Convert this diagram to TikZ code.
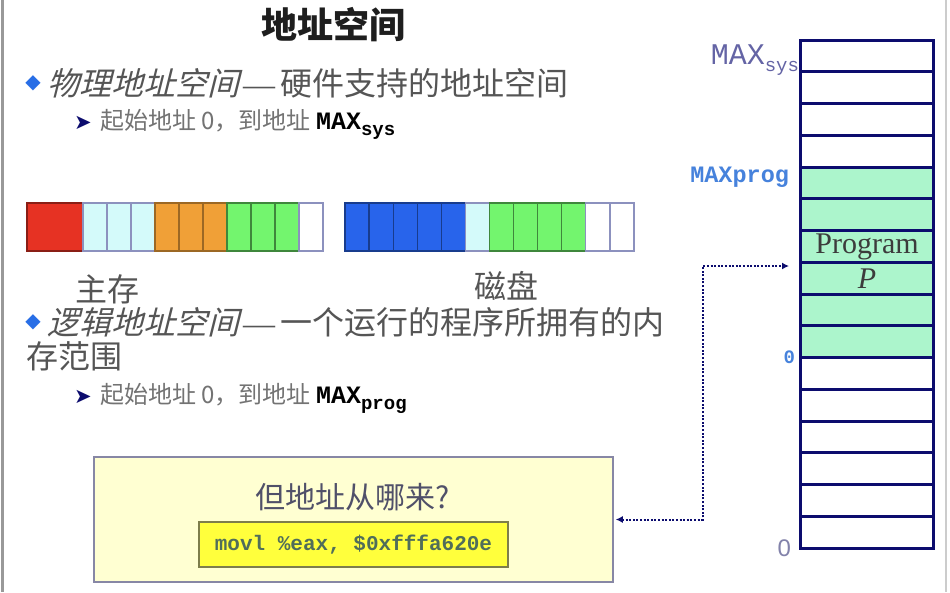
\documentclass[tikz,border=0pt]{standalone}
\usepackage{fontspec}
\setmainfont{Liberation Serif}
\setsansfont{Liberation Sans}
\setmonofont{Liberation Mono}
\newfontfamily\cjk{Noto Sans CJK SC}
\newfontfamily\cjkit[FakeSlant=0.25]{Noto Sans CJK SC}
\newfontfamily\dejavu{DejaVu Sans}
\usetikzlibrary{arrows.meta}
\definecolor{navy}{RGB}{12,12,110}
\definecolor{pgreen}{RGB}{172,245,204}
\definecolor{cred}{RGB}{230,50,35}
\definecolor{ccy}{RGB}{212,250,250}
\definecolor{cor}{RGB}{240,160,55}
\definecolor{cgr}{RGB}{115,245,110}
\definecolor{cbl}{RGB}{40,100,235}
\definecolor{cedge}{RGB}{140,145,190}
\definecolor{txtgray}{RGB}{85,85,85}
\definecolor{subgray}{RGB}{115,115,115}
\definecolor{bulletblue}{RGB}{40,110,230}
\definecolor{boxfill}{RGB}{255,255,210}
\definecolor{boxedge}{RGB}{135,135,165}
\definecolor{codefill}{RGB}{255,255,60}
\definecolor{codeedge}{RGB}{125,125,75}
\definecolor{codetxt}{RGB}{80,110,90}
\definecolor{maxsys}{RGB}{100,100,165}
\definecolor{maxprog}{RGB}{70,130,220}
\tikzset{
  txt/.style={inner sep=0pt, outer sep=0pt},
  bigcjk/.style={txt, font=\cjk\fontsize{32}{36}\selectfont, text=txtgray},
  subtxt/.style={txt, font=\cjk\fontsize{24}{28}\selectfont, text=subgray},
  cellw/.style={draw=navy, line width=3pt, minimum width=133pt, minimum height=31.75pt, inner sep=0pt, fill=white},
  cellg/.style={cellw, fill=pgreen},
  ptr/.style={draw=navy, line width=2pt, dash pattern=on 2pt off 1.6pt, {Latex[length=7pt,width=7pt]}-{Latex[length=7pt,width=7pt]}},
}
\newcommand{\MAXsub}[1]{{\ttfamily\bfseries\color{black}\fontsize{25}{28}\selectfont MAX}\raisebox{-6pt}{\ttfamily\bfseries\color{black}\fontsize{19}{20}\selectfont #1}}
\begin{document}
\begin{tikzpicture}[x=1pt,y=-1pt]
\useasboundingbox (0,0) rectangle (950,592);
\fill[white] (0,0) rectangle (950,592);
\draw[gray!80, line width=3pt] (2,0) -- (2,592);
\draw[gray!40, line width=1.5pt] (946,0) -- (946,592);

% title
\node[txt, font=\cjk\bfseries\fontsize{36}{40}\selectfont, text={rgb,255:red,30;green,30;blue,30}] (title) at (333,25) {地址空间};

% bullet 1
\node[txt, font=\dejavu\fontsize{20}{24}\selectfont, text=bulletblue] (d1) at (33,83) {◆};
\node[bigcjk, anchor=west] (b1) at (47,83) {{\cjkit 物理地址空间}\hspace{4pt}{\rmfamily —}\hspace{5pt}硬件支持的地址空间};
\node[txt, font=\dejavu\fontsize{21}{24}\selectfont, text=navy] (a1) at (83,123) {➤};
\node[subtxt, anchor=west] (s1) at (100,124) {起始地址 0，到地址 \MAXsub{sys}};

% memory bars
\filldraw[fill=cred, draw=cred!60!black, line width=1.2pt] (27,203) rectangle (83,251);
\foreach \c/\b [count=\k from 0] in {ccy/cedge,ccy/cedge,ccy/cedge,cor/cor!65!black,cor/cor!65!black,cor/cor!65!black,cgr/cgr!55!black,cgr/cgr!55!black,cgr/cgr!55!black,white/cedge}
  \filldraw[fill=\c, draw=\b, line width=1.2pt] ({83+24*\k},203) rectangle ({107+24*\k},251);
\foreach \c/\b [count=\k from 0] in {cbl/cbl!60!black,cbl/cbl!60!black,cbl/cbl!60!black,cbl/cbl!60!black,cbl/cbl!60!black,ccy/cedge,cgr/cgr!55!black,cgr/cgr!55!black,cgr/cgr!55!black,cgr/cgr!55!black,white/cedge,white/cedge}
  \filldraw[fill=\c, draw=\b, line width=1.2pt] ({345+24.083*\k},203) rectangle ({369.083+24.083*\k},251);

\node[bigcjk] (mainmem) at (107,289) {主存};
\node[bigcjk] (disk) at (506,286) {磁盘};

% bullet 2
\node[txt, font=\dejavu\fontsize{20}{24}\selectfont, text=bulletblue] (d2) at (33,322) {◆};
\node[bigcjk, anchor=west] (b2) at (47,322) {{\cjkit 逻辑地址空间}\hspace{4pt}{\rmfamily —}\hspace{5pt}一个运行的程序所拥有的内};
\node[bigcjk, anchor=west] (b2b) at (26,356) {存范围};
\node[txt, font=\dejavu\fontsize{21}{24}\selectfont, text=navy] (a2) at (83,397) {➤};
\node[subtxt, anchor=west] (s2) at (100,398) {起始地址 0，到地址 \MAXsub{prog}};

% question box
\node[draw=boxedge, fill=boxfill, line width=1.5pt, minimum width=519pt, minimum height=125pt, inner sep=0pt] (qbox) at (353.5,519.5) {};
\node[txt, font=\cjk\fontsize{30}{34}\selectfont, text={rgb,255:red,80;green,80;blue,105}] (q) at (353,497) {但地址从哪来?};
\node[draw=codeedge, fill=codefill, line width=1.5pt, minimum width=309pt, minimum height=45pt, inner sep=0pt, font=\ttfamily\bfseries\fontsize{21}{24}\selectfont, text=codetxt] (code) at (353.5,544.5) {movl \%eax, \$0xfffa620e};

% stack labels (behind stack)
\node[txt, anchor=base east, font=\ttfamily\fontsize{30}{34}\selectfont, text=maxsys] (maxsys) at (799,64) {MAX\raisebox{-7pt}{\fontsize{19}{22}\selectfont sys}};
\node[txt, anchor=east, font=\ttfamily\bfseries\fontsize{23.5}{26}\selectfont, text=maxprog] (maxprog) at (789,177) {MAXprog};
\node[txt, anchor=east, font=\ttfamily\bfseries\fontsize{19}{22}\selectfont, text=maxprog] (zeroprog) at (795,357) {0};
\node[txt, anchor=east, font=\sffamily\fontsize{24}{28}\selectfont, text={rgb,255:red,130;green,130;blue,170}] (zerosys) at (791,548) {0};

% stack
\foreach \i in {1,2,3,4,11,12,13,14,15,16}
  \node[cellw] (c\i) at (866.5,{40+31.75*(\i-0.5)}) {};
\foreach \i in {5,...,10}
  \node[cellg] (c\i) at (866.5,{40+31.75*(\i-0.5)}) {};
\node[txt, font=\rmfamily\fontsize{30}{34}\selectfont, text={rgb,255:red,60;green,60;blue,60}] (prog) at (867,247) {Program};
\node[txt, font=\rmfamily\itshape\fontsize{30}{34}\selectfont, text={rgb,255:red,60;green,60;blue,60}] (progp) at (867,279) {P};

% pointer
\coordinate (tip) at (789,266);
\draw[ptr, shorten <=2pt] (qbox.east) -- ++(89,0) |- (tip);
\end{tikzpicture}
\end{document}
